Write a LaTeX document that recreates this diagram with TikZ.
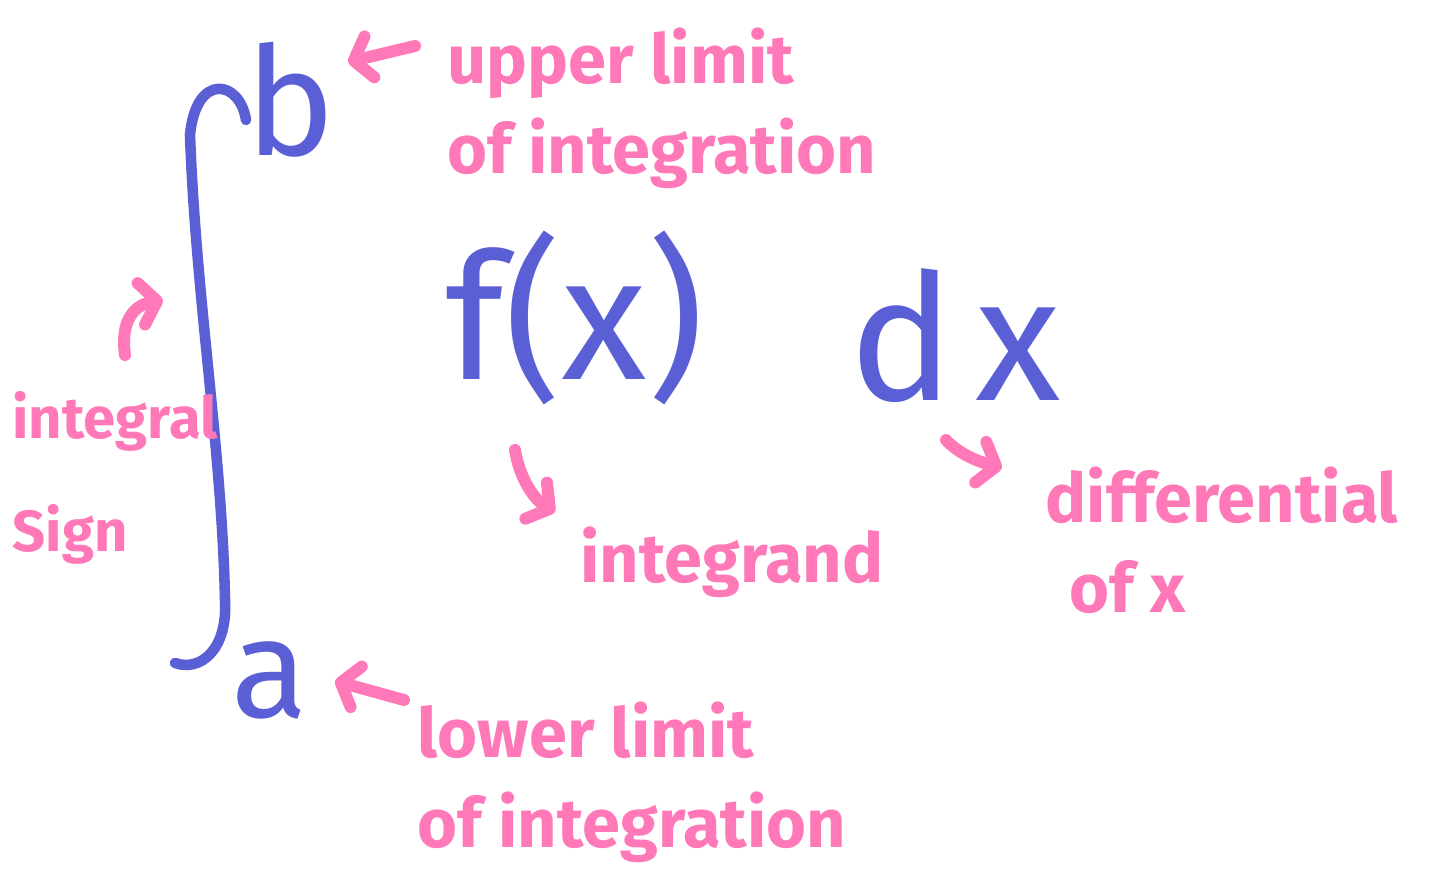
\documentclass[tikz,border=0pt]{standalone}
\usepackage{fontspec}
\setmainfont{Fira Sans}
\usetikzlibrary{arrows.meta}
\definecolor{marcador}{RGB}{255,120,184}
\definecolor{tinta}{RGB}{91,95,214}

\begin{document}
\begin{tikzpicture}[
    x=0.01cm, y=-0.01cm,
    rotulo/.style={text=marcador, font=\bfseries\fontsize{19.5}{25.5}\selectfont,
                   align=left, inner sep=0pt},
    simbolo/.style={text=tinta, inner sep=0pt},
    flecha/.style={draw=marcador, line width=3.4pt, line cap=round, line join=round,
                   -{Straight Barb[round, length=1.6mm, width=4.2mm]}},
    trazo/.style={draw=tinta, line width=3pt, line cap=round}
]
    \useasboundingbox[fill=white] (0,0) rectangle (1429,886);

    \draw[trazo] (246,120) .. controls (240,80) and (196,72) .. (190,135)
                 .. controls (196,300) and (222,450) .. (225,600)
                 .. controls (228,650) and (200,672) .. (175,663);

    \node[simbolo, font=\fontsize{43}{43}\selectfont] (b) at (290,100) {b};
    \node[simbolo, font=\fontsize{40}{40}\selectfont] (a) at (270,680) {a};
    \node[simbolo, font=\fontsize{50}{50}\selectfont] (fx) at (575,318) {f(x)};
    \node[simbolo, font=\fontsize{50}{50}\selectfont] (dx) at (955,336) {d\kern0.12em x};

    \node[rotulo] (superior) at (662,108) {upper limit\\of integration};
    \node[rotulo, font=\bfseries\fontsize{16.5}{32}\selectfont] (signo) at (115,478) {integral\\Sign};
    \node[rotulo] (integrando) at (732,562) {integrand};
    \node[rotulo] (diferencial) at (1222,540) {differential\\\hspace*{0.35em}of x};
    \node[rotulo] (inferior) at (632,782) {lower limit\\of integration};

    \coordinate (supT) at (415,46);
    \coordinate (supH) at (348,62);
    \coordinate (sigT) at (125,355);
    \coordinate (sigH) at (163,300);
    \coordinate (intT) at (515,450);
    \coordinate (intH) at (555,512);
    \coordinate (difT) at (946,440);
    \coordinate (difH) at (1002,468);
    \coordinate (infT) at (404,700);
    \coordinate (infH) at (335,681);

    \draw[flecha] (supT) -- (supH);
    \draw[flecha] (sigT) .. controls (120,320) and (135,305) .. (sigH);
    \draw[flecha] (intT) .. controls (520,480) and (535,500) .. (intH);
    \draw[flecha] (difT) .. controls (960,455) and (980,462) .. (difH);
    \draw[flecha] (infT) -- (infH);
\end{tikzpicture}
\end{document}
